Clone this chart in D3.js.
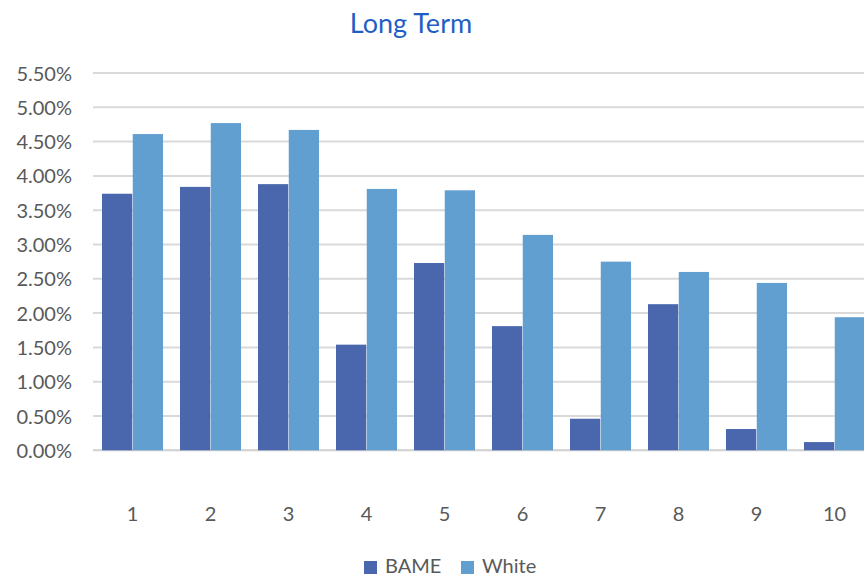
<!DOCTYPE html>
<html><head><meta charset="utf-8">
<script src="https://cdn.jsdelivr.net/npm/d3@7"></script>
<style>body{margin:0;background:#fff;overflow:hidden}svg{display:block}</style>
</head><body>
<script>
const categories = ["1","2","3","4","5","6","7","8","9","10"];
const bame  = [3.74, 3.84, 3.88, 1.54, 2.73, 1.81, 0.46, 2.13, 0.31, 0.12];
const white = [4.61, 4.77, 4.67, 3.81, 3.79, 3.14, 2.75, 2.60, 2.44, 1.94];
const seriesNames = ["BAME", "White"];
const yTicks = [0,0.5,1,1.5,2,2.5,3,3.5,4,4.5,5,5.5];
const colors = ["#4A67AE", "#629FD1"];

const W = 864, H = 577;
const font = "Lato, 'Open Sans', sans-serif";
const svg = d3.select("body").append("svg").attr("width", W).attr("height", H);

const x = d3.scaleBand().domain(categories).range([93.5, 873.5]).paddingInner(17/78).paddingOuter(8.5/78);
const xs = d3.scaleBand().domain(seriesNames).range([0, x.bandwidth()]).paddingInner(1/61);
const y = d3.scaleLinear().domain([0, 5.5]).range([450.3, 73]);

// gridlines
svg.append("g").selectAll("line").data(yTicks).join("line")
  .attr("x1", 93).attr("x2", W)
  .attr("y1", d => y(d)).attr("y2", d => y(d))
  .attr("stroke", d => d === 0 ? "#d0d0d0" : "#d9d9d9").attr("stroke-width", 2);

// y labels
const yAxis = d3.axisLeft(y).tickValues(yTicks).tickFormat(d => d.toFixed(2) + "%").tickSize(0).tickPadding(0);
const gy = svg.append("g").attr("transform", "translate(72,0)").call(yAxis);
gy.select(".domain").remove();
gy.selectAll("text").attr("fill", "#595959").style("font-family", font).style("font-size", "20px").attr("dy", "0.35em");

// bars
const data = categories.map((c, i) => ({c, vals: [bame[i], white[i]]}));
const g = svg.append("g").selectAll("g").data(data).join("g")
  .attr("transform", d => `translate(${x(d.c)},0)`);
g.selectAll("rect").data(d => d.vals.map((v, j) => ({v, s: seriesNames[j], j})))
  .join("rect")
  .attr("x", d => xs(d.s)).attr("width", xs.bandwidth())
  .attr("y", d => y(d.v)).attr("height", d => y(0) - y(d.v))
  .attr("fill", d => colors[d.j]);

// x labels
const xAxis = d3.axisBottom(x).tickSize(0).tickPadding(0);
const gx = svg.append("g").attr("transform", "translate(0,514)").call(xAxis);
gx.select(".domain").remove();
gx.selectAll("text").attr("fill", "#595959").style("font-family", font).style("font-size", "20px").attr("dy", "0.35em");

// title
svg.append("text").attr("x", 411).attr("y", 33).attr("text-anchor", "middle")
  .attr("fill", "#1F5FC4").style("font-family", font).style("font-size", "27px").text("Long Term");

// legend
const lg = svg.append("g");
const legendX = [364, 461];
seriesNames.forEach((s, i) => {
  lg.append("rect").attr("x", legendX[i]).attr("y", 561).attr("width", 13).attr("height", 13).attr("fill", colors[i]);
  lg.append("text").attr("x", legendX[i] + 21).attr("y", 573)
    .attr("fill", "#595959").style("font-family", font).style("font-size", "20px").text(s);
});
</script>
</body></html>
